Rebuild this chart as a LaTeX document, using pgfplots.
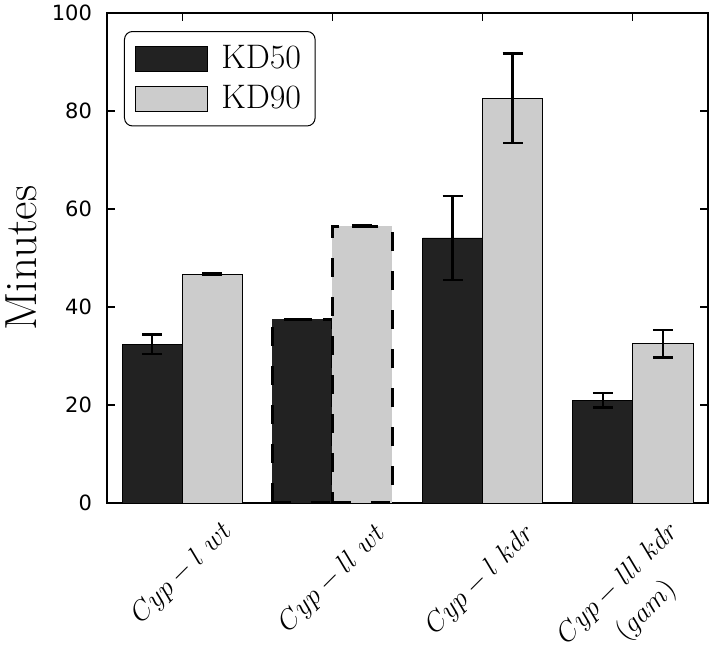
\RequirePackage{fix-cm}
\documentclass[border=0pt]{standalone}
\usepackage{fontspec}
\usepackage{graphicx}
\usepackage{pgfplots}
\pgfplotsset{compat=1.18}
\newfontfamily\dejavu{DejaVu Sans}
\definecolor{darkbar}{HTML}{222222}
\definecolor{lightbar}{HTML}{CCCCCC}
\pgfplotsset{
  mybar/.style={ybar, bar width=0.4, bar shift=0pt,
    legend image code/.code={\draw[##1, sharp corners, line width=0.5pt, solid] (0pt,-6.25pt) rectangle (36pt,6.25pt); \path (41pt,0pt);},
    error bars/y dir=both, error bars/y explicit,
    error bars/error bar style={line width=1.25pt, black, solid},
    error bars/error mark options={rotate=90, mark size=5pt, line width=1.25pt, black, solid}},
}
\tikzset{xlab/.style={rotate=45, anchor=center, font=\fontsize{13.8}{19.5}\selectfont, draw=white, draw opacity=0}}
\begin{document}
\begin{tikzpicture}
\begin{axis}[
  name=ax,
  width=300.5pt, height=245pt, scale only axis,
  xmin=-0.5, xmax=3.5, ymin=0, ymax=100,
  xtick={0,1,2,3},
  xticklabels={},
  ytick={0,20,40,60,80,100},
  yticklabel style={font=\fontsize{10.5}{12}\selectfont\dejavu, /pgf/number format/assume math mode=true, xshift=-4pt},
  tick align=inside, major tick length=4pt,
  tick style={line width=0.6pt, black},
  axis line style={line width=0.6pt},
  ylabel={Minutes},
  ylabel style={at={(axis description cs:-0.143,0.5)}, anchor=center, font=\fontsize{22.5}{26}\selectfont},
  legend style={at={(0,1)}, anchor=north west, xshift=8.5pt, yshift=-9pt, draw=black, line width=0.5pt, rounded corners=4pt, fill=white, font=\fontsize{17}{20}\selectfont, inner xsep=5pt, inner ysep=5pt, row sep=3pt},
  legend cell align=left,
]
\addplot[mybar, fill=darkbar, draw=black, line width=0.4pt] coordinates {
  (-0.2,32.4) +- (0,2.0)
  (1.8,54.1) +- (0,8.6)
  (2.8,21.0) +- (0,1.5)
};
\addplot[mybar, fill=lightbar, draw=black, line width=0.4pt] coordinates {
  (0.2,46.7) +- (0,0.1)
  (2.2,82.6) +- (0,9.1)
  (3.2,32.5) +- (0,2.8)
};
\addplot[mybar, forget plot, fill=darkbar, draw=black, line width=1.6pt, dash pattern=on 9.5pt off 10pt] coordinates {
  (0.8,37.5) +- (0,0.1)
};
\addplot[mybar, forget plot, fill=lightbar, draw=black, line width=1.6pt, dash pattern=on 9.5pt off 10pt] coordinates {
  (1.2,56.5) +- (0,0.1)
};
\legend{KD50,KD90}
\end{axis}
\node[xlab, align=center] at ([xshift=37.56pt, yshift=-35.5pt]ax.south west) {$Cyp-l\ wt$};
\node[anchor=center, font=\fontsize{13.8}{19.5}\selectfont] at ([xshift=112.69pt, yshift=-38pt]ax.south west) {\rotatebox{45}{$Cyp-ll\ wt$}};
\node[xlab] at ([xshift=186.8pt, yshift=-38.5pt]ax.south west) {$Cyp-l\ kdr$};
\node[xlab, align=center] at ([xshift=262.94pt, yshift=-47.5pt]ax.south west) {$Cyp-lll\ kdr$\\$(gam)$};
\pgfresetboundingbox
\path[use as bounding box] ([xshift=-53.5pt,yshift=-73pt]ax.south west) rectangle ([xshift=0.5pt,yshift=6.5pt]ax.north east);
\end{tikzpicture}
\end{document}
